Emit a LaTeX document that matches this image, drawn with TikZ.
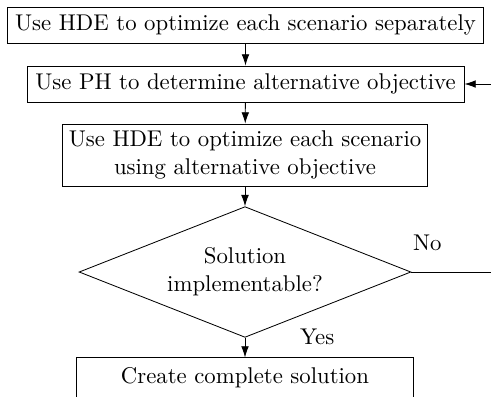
\documentclass[11pt,tikz,border=0pt]{standalone}
\usepackage{tikz}
\usetikzlibrary{shapes.geometric, arrows.meta}
\tikzstyle{Step}=[rectangle, draw=black, align=center, inner sep=0pt]
\tikzstyle{Test}=[diamond, draw=black, align=center, inner sep=0pt, aspect=2.53]

\begin{document}
\begin{tikzpicture}[x=0.016904cm, y=-0.016904cm, >={Latex[length=1.9mm, width=1.3mm]}]
    \useasboundingbox (0,0) rectangle (491,396);
    \clip (0,0) rectangle (491,396);
    \path
    (245.5,25) node[Step, minimum width=8.06cm, minimum height=0.61cm] (hde) {Use HDE to optimize each scenario separately}
    (245.5,84) node[Step, minimum width=7.39cm, minimum height=0.61cm] (ph) {Use PH to determine alternative objective}
    (245,155) node[Step, minimum width=6.17cm, minimum height=1.05cm] (alt) {Use HDE to optimize each scenario\\using alternative objective}
    (245,272) node[Test, minimum width=5.61cm, minimum height=2.21cm] (impl) {Solution\\implementable?}
    (245,378) node[Step, minimum width=5.71cm, minimum height=0.68cm] (sol) {Create complete solution};

    \draw[->] (hde) -- (ph);
    \draw[->] (ph) -- (alt);
    \draw[->] (alt) -- (impl);
    \draw[->] (impl) -- (sol);
    \draw[->] (impl.east) -- (515,272) |- (ph.east);

    \draw (impl.east) node[xshift=0.27cm, yshift=0.5cm] {No};
    \draw (impl.south) node[xshift=1.22cm, yshift=0.02cm] {Yes};
\end{tikzpicture}
\end{document}
